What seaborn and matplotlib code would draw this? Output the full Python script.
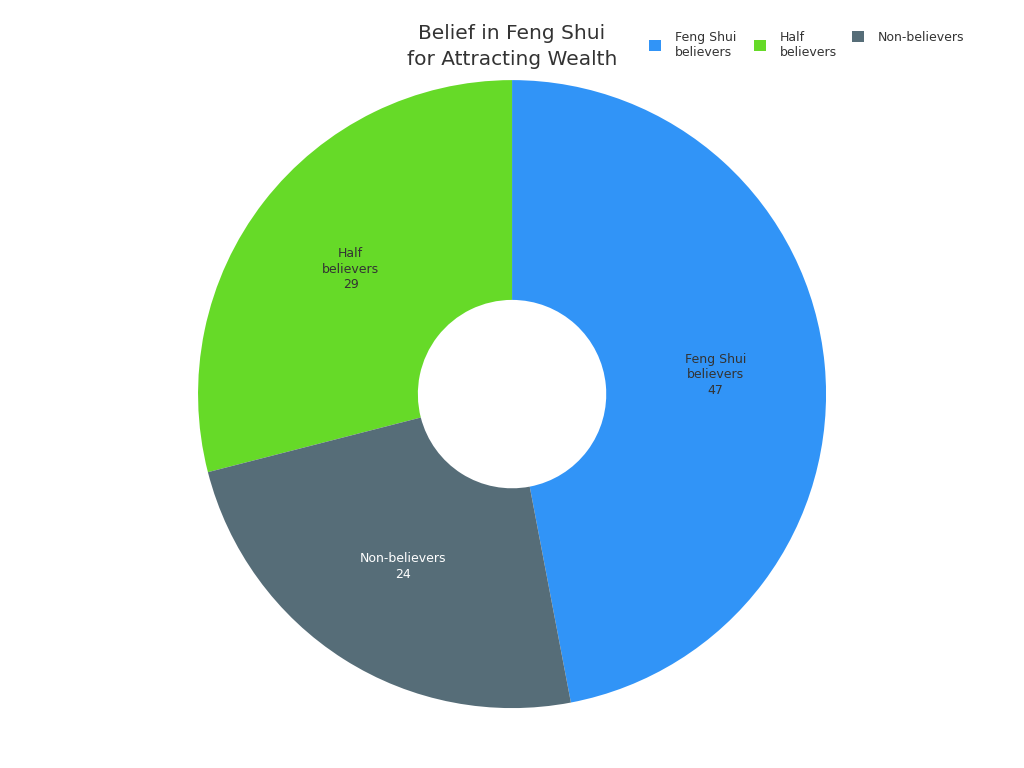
import matplotlib
matplotlib.use("Agg")
import matplotlib.pyplot as plt
import seaborn as sns

# data (legend order)
categories = ["Feng Shui\nbelievers", "Half\nbelievers", "Non-believers"]
values = [47, 29, 24]
colors = ["#3194F7", "#66DA28", "#566D78"]
label_colors = ["#333333", "#333333", "#ffffff"]

sns.set_theme(style="white")
plt.rcParams["font.family"] = ["DejaVu Sans"]

fig = plt.figure(figsize=(10.24, 7.68), dpi=100)
ax = fig.add_axes([0.1934, 0.078, 0.6133, 0.8177])

# first slice runs clockwise from 12 o'clock; the rest follow counter-clockwise
start = 90 - 360 * values[0] / sum(values)
labels = [f"{c}\n{v}" for c, v in zip(categories, values)]
wedges, texts = ax.pie(values, labels=labels, colors=colors, startangle=start,
                       counterclock=True, labeldistance=0.65,
                       wedgeprops=dict(width=0.70, edgecolor="none"),
                       textprops=dict(fontsize=9))
for t, c in zip(texts, label_colors):
    t.set_ha("center")
    t.set_va("center")
    t.set_color(c)
    t.set_linespacing(1.25)
ax.set_xlim(-1, 1)
ax.set_ylim(-1, 1)
ax.set_aspect("equal")

fig.text(0.5, 1 - 24 / 768, "Belief in Feng Shui\nfor Attracting Wealth",
         ha="center", va="top", fontsize=14.5, color="#333333", linespacing=1.47)

# one small legend per entry so every entry is top aligned
legend_x = [649, 754, 852]
for w, name, x in zip(wedges, categories, legend_x):
    leg = fig.legend([w], [name], loc="upper left",
                     bbox_to_anchor=(x / 1024, 1 - 31 / 768), frameon=False,
                     fontsize=9, handlelength=0.95, handleheight=0.95,
                     handletextpad=1.1, borderpad=0, borderaxespad=0)
    for t in leg.get_texts():
        t.set_color("#333333")

fig.savefig("out.png", dpi=100)
